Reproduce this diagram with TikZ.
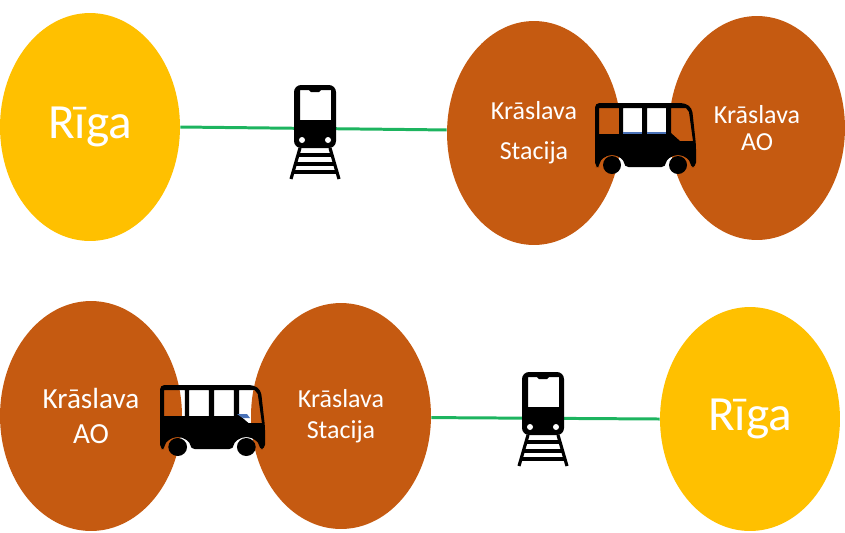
\documentclass[tikz,border=0pt]{standalone}
\usepackage{fontspec}
\setmainfont{Carlito}
\usetikzlibrary{shapes}
\definecolor{rigacol}{HTML}{FFC000}
\definecolor{krascol}{HTML}{C55A11}
\definecolor{railcol}{HTML}{1DB45F}
\definecolor{glasscol}{HTML}{4A72B8}
\newcommand{\bigs}{\fontsize{28}{32}\selectfont}
\newcommand{\mids}{\fontsize{16.6}{19}\selectfont}
\newcommand{\smalls}{\fontsize{14.8}{17}\selectfont}
\tikzset{
    rigastyle/.style={ellipse, fill=rigacol, text=white, inner sep=0pt, font=\bigs},
    krasstyle/.style={ellipse, fill=krascol, text=white, inner sep=0pt, align=center, font=\smalls},
    railline/.style={railcol, line width=1.7pt},
    bus/.pic={
        \fill[black, even odd rule, rounded corners=2.5]
            (0,64) -- (0,0) -- (90,0) -- (97,5) -- (101,42) -- (101,64) -- (95,64)
            arc[start angle=0, end angle=-180, radius=12] -- (29,64)
            arc[start angle=0, end angle=-180, radius=12] -- cycle
            [sharp corners]
            (4,5) rectangle (24,31)
            (28,5) rectangle (47,31)
            (52,5) rectangle (71,31)
            (76,5) -- (91,5) -- (94,9) -- (98,38) -- (85,38) -- (76,30) -- cycle;
        \fill[black] (17,62) circle[radius=9];
        \fill[black] (83,62) circle[radius=9];
    },
    train/.pic={
        \fill[black, even odd rule, rounded corners=4]
            (0,0) rectangle (42,63)
            [sharp corners]
            (6,5) -- (15,5) -- (17,7) -- (25,7) -- (27,5) -- (37,5) -- (37,35) -- (6,35) -- cycle;
        \fill[white] (8,55) circle[radius=3];
        \fill[white] (34,55) circle[radius=3];
        \draw[black, line width=1.8pt] (6,63) -- (-3,94);
        \draw[black, line width=1.8pt] (36,63) -- (45,94);
        \draw[black, line width=2.2pt] (3,70) -- (39,70);
        \draw[black, line width=2.2pt] (1,79) -- (41,79);
        \draw[black, line width=2.2pt] (-1,87) -- (43,87);
    }
}
\begin{document}
\begin{tikzpicture}[x=0.02cm, y=-0.02cm]
    \useasboundingbox (0,0) rectangle (845,532);

    \node[rigastyle, minimum width=3.6cm, minimum height=4.56cm] (rigaup) at (90,127) {Rīga};
    \node[krasstyle, minimum width=3.48cm, minimum height=4.48cm] (stacup) at (534,133) {Krāslava\\[5.7pt]Stacija};
    \node[krasstyle, minimum width=3.52cm, minimum height=4.48cm] (aoup) at (757,128) {Krāslava\\[-1.7pt]AO};
    \draw[railline] (rigaup.east) -- (stacup.178);
    \pic at (294,85) {train};
    \pic at (595,103) {bus};
    \fill[glasscol] (623,132) rectangle (642,134);
    \fill[glasscol] (647,132) rectangle (666,134);

    \node[krasstyle, font=\mids, minimum width=3.64cm, minimum height=4.6cm] (aodown) at (91,416) {Krāslava\\[1.4pt]AO};
    \node[krasstyle, minimum width=3.6cm, minimum height=4.52cm] (stacdown) at (341,416) {Krāslava\\[.6pt]Stacija};
    \node[rigastyle, minimum width=3.6cm, minimum height=4.48cm] (rigadown) at (750,419) {Rīga};
    \draw[railline] (stacdown.359) -- (rigadown.west);
    \pic at (522,372) {train};
    \pic[xscale=1.04] at (160,385) {bus};
    \fill[glasscol] (237,414) -- (247,414) -- (250,418) -- (243,418) -- cycle;
\end{tikzpicture}
\end{document}
